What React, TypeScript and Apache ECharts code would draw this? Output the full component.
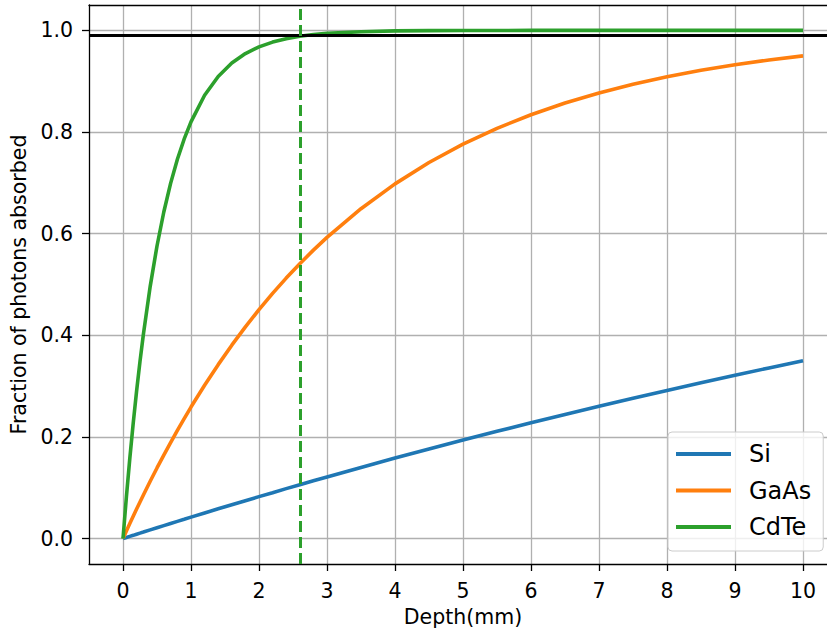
import React, { useEffect, useRef } from "react";
import * as echarts from "echarts";

const depth = [0, 0.05, 0.1, 0.15, 0.2, 0.25, 0.3, 0.4, 0.5, 0.6, 0.7, 0.8, 0.9, 1.0, 1.2, 1.4, 1.6, 1.8, 2.0, 2.2, 2.4, 2.6, 2.8, 3.0, 3.5, 4, 4.5, 5, 5.5, 6, 6.5, 7, 7.5, 8, 8.5, 9, 9.5, 10];
const si = [0, 0.0022, 0.0043, 0.0064, 0.0086, 0.0107, 0.0128, 0.0171, 0.0213, 0.0255, 0.0297, 0.0339, 0.038, 0.0422, 0.0504, 0.0586, 0.0666, 0.0746, 0.0826, 0.0904, 0.0983, 0.106, 0.1137, 0.1213, 0.14, 0.1584, 0.1763, 0.1939, 0.211, 0.2279, 0.2443, 0.2604, 0.2762, 0.2916, 0.3067, 0.3215, 0.3359, 0.3501];
const gaas = [0, 0.0149, 0.0295, 0.0439, 0.0581, 0.0721, 0.0859, 0.1129, 0.139, 0.1644, 0.189, 0.213, 0.2361, 0.2588, 0.3017, 0.3423, 0.3806, 0.4166, 0.4505, 0.4825, 0.5126, 0.541, 0.5676, 0.5927, 0.6492, 0.698, 0.74, 0.7761, 0.8073, 0.8341, 0.8572, 0.877, 0.8941, 0.9088, 0.9215, 0.9324, 0.9418, 0.9499];
const cdte = [0, 0.0822, 0.1576, 0.2268, 0.2904, 0.3487, 0.4022, 0.4964, 0.5758, 0.6427, 0.699, 0.7464, 0.7864, 0.82, 0.8723, 0.9094, 0.9357, 0.9544, 0.9676, 0.977, 0.9837, 0.9884, 0.9918, 0.9942, 0.9975, 0.999, 0.9996, 0.9998, 0.9999, 1.0, 1.0, 1.0, 1.0, 1.0, 1.0, 1.0, 1.0, 1.0];
const seriesNames = ["Si", "GaAs", "CdTe"];
const seriesColors = ["#1f77b4", "#ff7f0e", "#2ca02c"];
const xTicks = [0, 1, 2, 3, 4, 5, 6, 7, 8, 9, 10];
const yTicks = [0, 0.2, 0.4, 0.6, 0.8, 1.0];
const absorbedThreshold = 0.99;
const cutoffDepth = 2.6;

const FONT = "DejaVu Sans";

export default function App() {
  const ref = useRef<HTMLDivElement>(null);
  useEffect(() => {
    if (!ref.current) return;
    const chart = echarts.init(ref.current, undefined, { renderer: "svg" });
    const values = [si, gaas, cdte];
    const near = (v: number, arr: number[]) => arr.some((t) => Math.abs(t - v) < 1e-6);
    const series: any[] = seriesNames.map((name, i) => ({
      name,
      type: "line",
      data: depth.map((d, j) => [d, values[i][j]]),
      showSymbol: false,
      symbol: "none",
      lineStyle: { color: seriesColors[i], width: 3.6 },
      itemStyle: { color: seriesColors[i] },
      clip: true,
      z: 3,
    }));
    series[2].markLine = {
      silent: true,
      symbol: ["none", "none"],
      label: { show: false },
      emphasis: { disabled: true },
      data: [
        { yAxis: absorbedThreshold, lineStyle: { color: "#000", width: 3, type: "solid" } },
        { xAxis: cutoffDepth, lineStyle: { color: "#2ca02c", width: 3, type: [11, 5] } },
      ],
    };
    const lineCommon = {
      axisLine: { show: true, onZero: false, lineStyle: { color: "#000", width: 1.3 } },
      splitLine: { show: true, lineStyle: { color: "#b0b0b0", width: 1.3 } },
    };
    chart.setOption({
      animation: false,
      backgroundColor: "#ffffff",
      textStyle: { fontFamily: FONT },
      grid: { left: 87, right: 0, top: 5, bottom: 69, containLabel: false },
      legend: {
        data: seriesNames,
        orient: "vertical",
        left: 668,
        top: 432,
        padding: [10, 12, 12, 8],
        itemWidth: 55,
        itemHeight: 4,
        itemGap: 12.5,
        icon: "rect",
        backgroundColor: "rgba(255,255,255,0.8)",
        borderColor: "#cccccc",
        borderWidth: 1,
        borderRadius: 4,
        textStyle: { fontSize: 24, fontFamily: FONT, color: "#000", lineHeight: 24, padding: [0, 0, 0, 13] },
      },
      xAxis: [
        {
          type: "value",
          min: -0.5,
          max: 10.5,
          splitNumber: 10,
          name: "Depth(mm)",
          nameLocation: "middle",
          nameGap: 42,
          nameTextStyle: { fontSize: 20.5, color: "#000", fontFamily: FONT },
          ...lineCommon,
          axisTick: { show: true, length: 7, customValues: xTicks, lineStyle: { color: "#000", width: 1.3 } },
          axisLabel: {
            margin: 16,
            fontSize: 20.5,
            color: "#000",
            fontFamily: FONT,
            customValues: xTicks,
            formatter: (v: number) => (near(v, xTicks) ? String(Math.round(v)) : ""),
          },
        },
        {
          type: "value",
          position: "top",
          min: -0.5,
          max: 10.5,
          axisLine: { show: true, onZero: false, lineStyle: { color: "#000", width: 1.3 } },
          axisTick: { show: false },
          axisLabel: { show: false },
          splitLine: { show: false },
        },
      ],
      yAxis: {
        type: "value",
        min: -0.05,
        max: 1.05,
        splitNumber: 5,
        name: "Fraction of photons absorbed",
        nameLocation: "middle",
        nameGap: 60,
        nameTextStyle: { fontSize: 20.5, color: "#000", fontFamily: FONT },
        ...lineCommon,
        axisTick: { show: true, length: 7, customValues: yTicks, lineStyle: { color: "#000", width: 1.3 } },
        axisLabel: {
          margin: 16,
          fontSize: 20.5,
          color: "#000",
          fontFamily: FONT,
          customValues: yTicks,
          formatter: (v: number) => (near(v, yTicks) ? v.toFixed(1) : ""),
        },
      },
      series,
    });
    return () => chart.dispose();
  }, []);
  return (
    <div style={{ position: "fixed", left: 0, top: 0, width: 827, height: 633, overflow: "hidden", background: "#fff" }}>
      <div ref={ref} style={{ width: 837, height: 633 }} />
    </div>
  );
}
